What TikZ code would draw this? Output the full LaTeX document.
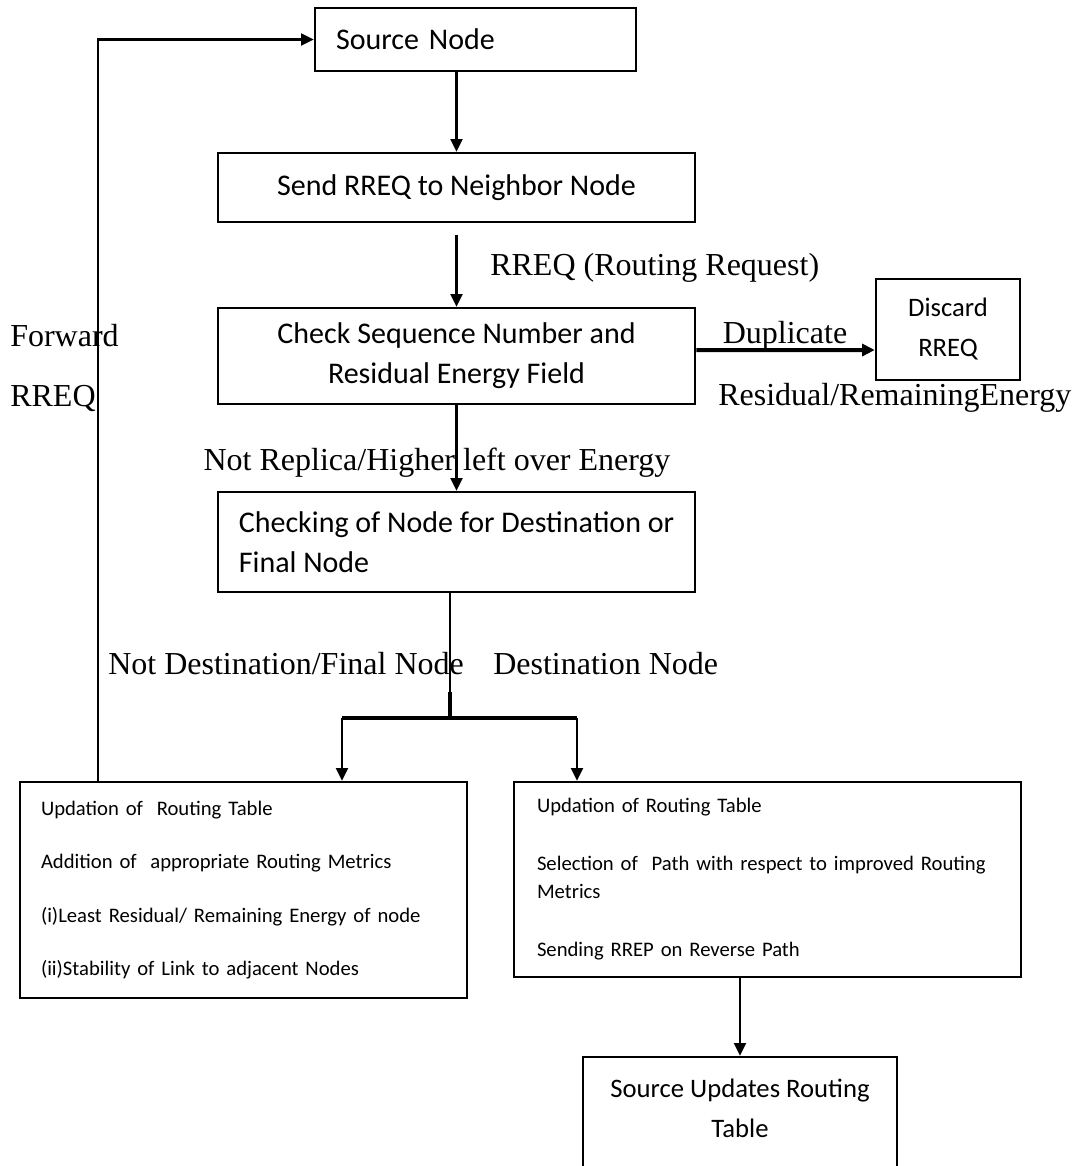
\documentclass[tikz,border=0pt]{standalone}
\usepackage{fontspec}
\setmainfont{Liberation Serif}
\newfontfamily\calibfont{Carlito}
\usepackage{tikz}
\usetikzlibrary{arrows.meta,positioning}

\newcommand{\boxfont}{\calibfont\fontsize{22.5}{30}\selectfont}
\newcommand{\midfont}{\calibfont\fontsize{20}{30}\selectfont}
\newcommand{\smallfont}{\calibfont\fontsize{15.5}{21}\selectfont}

\tikzset{
  flowbox/.style={draw, line width=1.9pt, rectangle, inner sep=0pt, align=center, font=\boxfont},
  arr/.style={line width=1.6pt, -{Triangle[length=9.5pt,width=9pt]}},
  heavy/.style={line width=3pt},
  lbl/.style={inner sep=0pt, font=\fontsize{24}{28}\selectfont},
}

\begin{document}
\begin{tikzpicture}[x=0.75pt,y=-0.75pt]
  \useasboundingbox (0,0) rectangle (1071,1166);
  \clip (0,0) rectangle (1071,1166);

  \node[flowbox, minimum width=240.75pt, minimum height=47.25pt, align=left,
        text width=209.25pt, inner xsep=15.75pt] (src) at (475.5,39.5) {Source Node};
  \node[flowbox, minimum width=357.75pt, minimum height=51.75pt] (send) at (456.5,187.5)
    {Send RREQ to Neighbor Node};
  \node[flowbox, minimum width=357.75pt, minimum height=72pt] (check) at (456.5,356)
    {Check Sequence Number and\\Residual Energy Field};
  \node[flowbox, font=\midfont, minimum width=108pt, minimum height=75.75pt] (discard) at (948,329.5)
    {Discard\\RREQ};
  \node[flowbox, minimum width=357.75pt, minimum height=75pt, align=left] (dest) at (456.5,542)
    {Checking of Node for Destination or\\Final Node};
  \node[flowbox, font=\smallfont, minimum width=335.25pt, minimum height=162pt, align=left,
        text width=303.75pt, inner xsep=15.75pt] (upd) at (243.5,890)
    {Updation of~ Routing Table\\[19pt]
     Addition of~ appropriate Routing Metrics\\[19pt]
     (i)Least Residual/ Remaining Energy of node\\[19pt]
     (ii)Stability of Link to adjacent Nodes};
  \node[flowbox, font=\smallfont, minimum width=380.25pt, minimum height=146.25pt, align=left,
        text width=345.75pt, inner xsep=17.25pt] (rep) at (767.5,879.5)
    {Updation of Routing Table\\[22.5pt]
     Selection of~ Path with respect to improved Routing\\
     Metrics\\[22.5pt]
     Sending RREP on Reverse Path};
  \node[flowbox, font=\midfont, minimum width=235.5pt, minimum height=106.5pt] (tab) at (740,1128)
    {Source Updates Routing\\Table\\~};

  \coordinate (stem) at (450,692);
  \coordinate (split) at (450,718);
  \coordinate (splitl) at (342,718);
  \coordinate (splitr) at (577,718);

  \draw[arr] (src.south -| send.north) -- (send.north);
  \draw[arr] ([yshift=-9pt]send.south) -- (check.north);
  \draw[arr, heavy] ([yshift=4.5pt]check.east) -- ([yshift=-15.4pt]discard.west);
  \draw[arr] (check.south) -- (dest.north);
  \draw[line width=1.6pt] (dest.south -| stem) -- (stem);
  \draw[heavy] (stem) -- (split);
  \draw[heavy] (splitl) -- (splitr);
  \draw[arr] (splitl) -- (splitl |- upd.north);
  \draw[arr] (splitr) -- (splitr |- rep.north);
  \draw[arr] ([xshift=-109.1pt]upd.north) |- (src.west);
  \draw[arr] (rep.south -| tab.north) -- (tab.north);

  \node[lbl, anchor=west] (lreq) at (490,268) {RREQ (Routing Request)};
  \node[lbl] (ldup) at (785,336) {Duplicate};
  \node[lbl, anchor=west] (lres) at (718,398) {Residual/RemainingEnergy};
  \node[lbl, anchor=west] (lfwd) at (10,336) {Forward};
  \node[lbl, anchor=west] (lfreq) at (10,398) {RREQ};
  \node[lbl] (lnorep) at (437,463) {Not Replica/Higher left over Energy};
  \node[lbl, anchor=west] (lnodst) at (108,664) {Not Destination/Final Node};
  \node[lbl, anchor=west] (ldst) at (493,664) {Destination Node};
\end{tikzpicture}
\end{document}
